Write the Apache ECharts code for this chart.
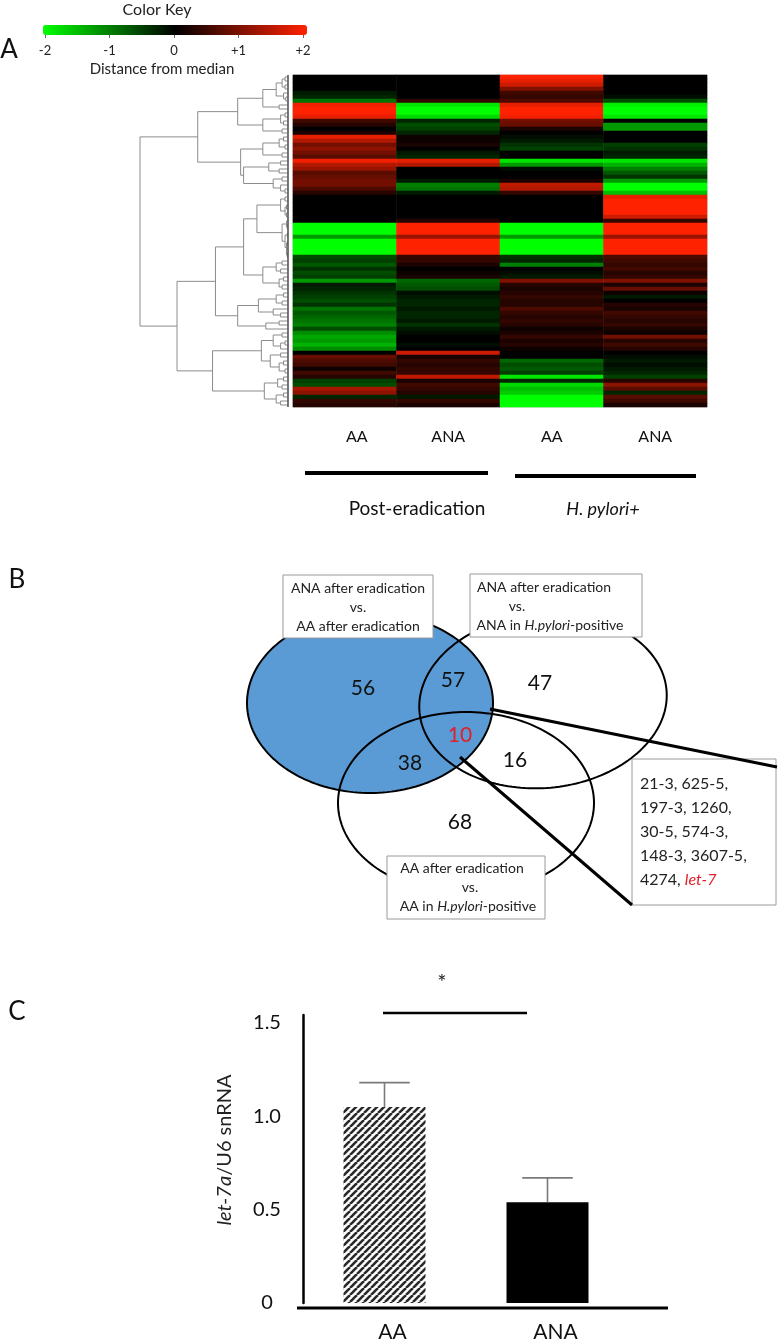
<!DOCTYPE html>
<html>
<head>
<meta charset="utf-8">
<script src="https://cdn.jsdelivr.net/npm/echarts@6/dist/echarts.min.js"></script>
<style>
html,body{margin:0;padding:0;background:#ffffff;}
#chart{width:778px;height:1343px;}
</style>
</head>
<body>
<div id="chart"></div>
<script>
// ================= Panel A : heatmap data =================
const heatColumnLabels = ['AA', 'ANA', 'AA', 'ANA'];
const heatGroupLabels = ['Post-eradication', 'H. pylori+'];
const colorKeyTicks = [-2, -1, 0, 1, 2];

// distance from median, row by row (top to bottom)
const colAApost = [0,0,0,0,-0.2,-0.3,-0.9,
  1.9,2,2,1.8,
  0.5,0.3,0,0.2,
  1.8,1.4,
  0.9,1.1,0.9,
  0.7,1.9,1.4,1.2,0.7,0.8,0.9,0.9,0.6,0.3,
  0,0,0,0,0,0,0,
  -2,-2,-2,-1.2,-2,-2,-2,-2,
  -0.6,-0.5,-0.7,-0.4,-0.6,-0.5,
  -1.2,
  -0.2,-0.3,-0.4,
  -0.5,-0.6,-0.4,-0.9,-0.7,-0.8,-0.9,
  -1.0,-0.6,-1.1,-1.3,-1.2,-1.4,-1.1,
  0,0.8,0.6,0.5,0.1,0.5,
  0.3,-0.5,-0.6,
  1.3,1.1,
  -0.3,0.4,0.3];
const colANApost = [0,0,0,0,0,0,0.4,
  -1.8,-2,-2,-1.7,
  -0.3,-0.6,-0.5,-0.3,
  0.1,0.1,
  0.2,0,-0.2,
  -0.3,1.8,1.4,0,0,0,-0.2,-1.0,-0.9,-0.2,
  0,0,0,0,0,0,0.3,
  2,2,2,1.2,2,2,2,2,
  0.4,0.4,0.2,0,0.1,0.2,
  -0.8,
  -0.7,-0.6,-0.1,
  -0.2,-0.3,-0.3,-0.2,-0.3,-0.3,-0.2,
  -0.4,-0.2,-0.1,0,0,-0.1,0,
  1.6,0.2,0.4,0.3,0.4,0.4,
  1.5,0.2,0.5,
  0.4,0.3,
  -0.2,0.4,0.2];
const colAAhp = [2,1.8,1.6,1.0,0.5,0.4,0.6,
  1.8,2,2,1.9,
  0.9,0.8,0.2,0,
  -0.1,-0.2,
  -0.4,-0.5,0,
  0,-1.8,-1.2,-0.1,0,0,0.2,1.5,1.4,0.4,
  0,0,0,0,0,0,0,
  -2,-2,-2,-1.2,-2,-2,-2,-2,
  -0.4,-0.3,-1.0,0,-0.1,-0.2,
  1.0,
  0.3,0.2,0.3,
  0.4,0.3,0.3,0.6,0.4,0.3,0.4,
  0.3,0.1,0.2,0.4,0.2,0.3,0.1,
  0,0,-0.8,-0.6,-0.7,-0.5,
  -1.8,-0.3,-1.7,
  -1.5,-1.6,
  -2,-2,-2];
const colANAhp = [0,0,0,0,0,-0.1,-0.6,
  -1.9,-2,-2,-1.8,
  0,-1.2,-1.2,0,
  0,0,
  -0.5,-0.4,-0.2,
  -0.3,-1.8,-1.4,-1.0,-0.7,-0.4,-1.2,-2,-2,-1.5,
  1.8,2,2,2,2,1.6,0.4,
  2,2,2,1.2,2,2,2,2,
  0.6,0.5,0.4,0.5,0.3,0.4,
  1.0,
  0.2,0.8,0.1,
  -0.2,0,0.3,0.2,0.5,0.4,0.3,
  0.4,0.2,0.1,0.9,0.3,0.5,0.3,
  0,-0.1,-0.2,-0.1,-0.2,-0.3,
  -0.5,0.3,1.1,
  0.7,-0.3,
  0.7,0.5,0.2];

// row dendrogram: [mergeHeight, left, right], leaves = row index
const dendroA1 = [0.34,
  [0.17, [0.08, [0.04, [0.02,0,1], [0.02,2,3]], [0.03, 4, [0.015,5,6]]], [0.06,7,8]],
  [0.17, [0.05, [0.02,9,10], [0.03,11,12]], [0.04,13,14]]];
const dendroA2 = [0.32,
  [0.17, [0.06,[0.03,15,16],[0.02,17,18]], [0.04,19,20]],
  [0.30, [0.13,[0.05,21,22],[0.06,23,24]], [0.10,[0.04,25,26],[0.05,27,[0.02,28,29]]]]];
const dendroB1 = [0.49,
  [0.30,
    [0.21, [0.05,[0.02,30,31],[0.02,[0.01,32,33],[0.01,34,35]]],
           [0.04,[0.01,36,[0.005,37,38]],[0.02,[0.005,39,40],[0.01,[0.005,41,42],[0.01,43,[0.005,44,45]]]]]],
    [0.17, [0.08,[0.04,46,47],[0.05,48,49]], [0.06,[0.03,50,51],[0.04,52,53]]]],
  [0.34, [0.20,[0.08,[0.03,54,55],[0.04,56,57]],[0.10,58,[0.05,59,60]]], [0.15,[0.06,61,62],63]]];
const dendroB2 = [0.51,
  [0.18, [0.10,[0.04,64,65],[0.05,[0.02,66,67],68]], [0.12,[0.05,69,70],[0.06,[0.03,71,72],[0.02,73,74]]]],
  [0.16, [0.07,[0.03,75,76],[0.04,77,78]], [0.08,[0.03,79,80],[0.05,81,82]]]];
const dendroTree = [1.0, [0.61, dendroA1, dendroA2], [0.75, dendroB1, dendroB2]];

// ================= Panel B : Venn data =================
const vennSetNames = [
  ['ANA after eradication', 'vs.', 'AA after eradication'],
  ['ANA after eradication', 'vs.', 'ANA in |H.pylori|-positive'],
  ['AA after eradication', 'vs.', 'AA in |H.pylori|-positive']
];
const vennRegionNames = ['1 only', '1&2', '2 only', '1&2&3', '1&3', '2&3', '3 only'];
const vennCounts = [56, 57, 47, 10, 38, 16, 68];
const commonMiRNAs = ['21-3', '625-5', '197-3', '1260', '30-5', '574-3', '148-3', '3607-5', '4274', 'let-7'];

// ================= Panel C : bar data =================
const barCategories = ['AA', 'ANA'];
const barValues = [1.05, 0.54];
const barErrors = [0.13, 0.13];
const barTicks = [0, 0.5, 1.0, 1.5];

// ================= layout (positions / styles) =================
const FONT = 'Lato, "Open Sans", "DejaVu Sans", sans-serif';
const vennEllipses = [ // cx, cy, rx, ry, rotation, filled
  [370, 703, 123, 90, 0, 1],
  [543, 701, 124, 87, -0.09, 0],
  [466, 803, 128, 91, 0, 0]
];
const vennCountPos = [[363,688],[453,680],[540,683],[460,735],[410,763],[515,760],[460,822]];

const rowNames = colAApost.map((_, i) => 'r' + i);
const heatCols = [colAApost, colANApost, colAAhp, colANAhp];
const heatData = [];
heatCols.forEach((col, x) => col.forEach((v, y) => heatData.push([x, y, v])));

// dendrogram segments from the tree
const dendroSegs = [];
function layoutTree(node) {
  if (typeof node === 'number') return { y: node, h: 0, lo: node, hi: node };
  const a = layoutTree(node[1]), b = layoutTree(node[2]);
  const h = node[0];
  dendroSegs.push([a.h, a.y, h, a.y]);
  dendroSegs.push([b.h, b.y, h, b.y]);
  dendroSegs.push([h, a.y, h, b.y]);
  return { y: (a.y + b.y) / 2, h: h, lo: Math.min(a.lo, b.lo), hi: Math.max(a.hi, b.hi) };
}
const rootInfo = layoutTree(dendroTree);
dendroSegs.push([0, rootInfo.lo - 0.5, 0, rootInfo.hi + 0.5]);

// hatch pattern for AA bar
function hatch() {
  const s = 7, c = document.createElement('canvas');
  c.width = s; c.height = s;
  const g = c.getContext('2d');
  g.fillStyle = '#ffffff'; g.fillRect(0, 0, s, s);
  g.strokeStyle = '#2a2a2a'; g.lineWidth = 2.6;
  [-s, 0, s].forEach(k => { g.beginPath(); g.moveTo(k, s); g.lineTo(k + s, 0); g.stroke(); });
  return c;
}

function richLine(str, size, fill) {
  const parts = str.split('|');
  let t = '';
  parts.forEach((p, i) => { if (p) t += (i % 2 ? '{i|' : '{n|') + p + '}'; });
  return {
    text: t, align: 'center', verticalAlign: 'middle',
    rich: {
      n: { fontSize: size, fontFamily: FONT, fill: fill || '#222' },
      i: { fontSize: size, fontFamily: FONT, fontStyle: 'italic', fill: fill || '#222' }
    }
  };
}
function boxGroup(x, y, w, h, lines, lineX, lineY) {
  const els = [{ type: 'rect', shape: { x: x, y: y, width: w, height: h }, style: { fill: '#fff', stroke: '#9a9a9a', lineWidth: 1 }, z: 20 }];
  lines.forEach((ln, i) => els.push({ type: 'text', x: lineX[i], y: lineY[i], style: richLine(ln, 14), z: 21 }));
  return els;
}

const chart = echarts.init(document.getElementById('chart'), null, { renderer: 'canvas' });

const graphics = [].concat(
  [
    { type: 'text', x: 9, y: 50, style: { text: 'A', fontSize: 26, fontFamily: FONT, fill: '#111', align: 'center', verticalAlign: 'middle' } },
    { type: 'text', x: 157, y: 10, style: { text: 'Color Key', fontSize: 16, fontFamily: FONT, fill: '#222', align: 'center', verticalAlign: 'middle' } },
    { type: 'text', x: 162, y: 69, style: { text: 'Distance from median', fontSize: 15, fontFamily: FONT, fill: '#222', align: 'center', verticalAlign: 'middle' } },
    { type: 'line', shape: { x1: 305, y1: 473, x2: 488, y2: 473 }, style: { stroke: '#000', lineWidth: 4 } },
    { type: 'line', shape: { x1: 515, y1: 476, x2: 696, y2: 476 }, style: { stroke: '#000', lineWidth: 4 } },
    { type: 'text', x: 417, y: 509, style: { text: heatGroupLabels[0], fontSize: 19, fontFamily: FONT, fill: '#111', align: 'center', verticalAlign: 'middle' } },
    { type: 'text', x: 603, y: 509, style: { text: heatGroupLabels[1], fontSize: 18, fontFamily: FONT, fontStyle: 'italic', fill: '#111', align: 'center', verticalAlign: 'middle' } },
    { type: 'text', x: 17, y: 580, style: { text: 'B', fontSize: 26, fontFamily: FONT, fill: '#111', align: 'center', verticalAlign: 'middle' } },
    { type: 'text', x: 17, y: 1012, style: { text: 'C', fontSize: 26, fontFamily: FONT, fill: '#111', align: 'center', verticalAlign: 'middle' } }
  ],
  boxGroup(283, 575, 150, 63, vennSetNames[0], [358, 358, 358], [588, 607, 626]),
  boxGroup(470, 574, 172, 63, vennSetNames[1], [544, 517, 550], [587, 606, 625]),
  boxGroup(387, 856, 158, 63, vennSetNames[2], [462, 470, 468], [868, 887, 906]),
  [
    { type: 'rect', shape: { x: 632, y: 759, width: 144, height: 146 }, style: { fill: '#fff', stroke: '#9a9a9a', lineWidth: 1 }, z: 20 }
  ],
  [0, 1, 2, 3, 4].map(k => {
    const a = commonMiRNAs[2 * k], b = commonMiRNAs[2 * k + 1];
    const isLast = k === 4;
    return {
      type: 'text', x: 640, y: 784 + 24 * k, z: 21,
      style: {
        text: isLast ? '{n|' + a + ', }{r|' + b + '}' : '{n|' + a + ', ' + b + ',}',
        align: 'left', verticalAlign: 'middle',
        rich: {
          n: { fontSize: 16, fontFamily: FONT, fill: '#222' },
          r: { fontSize: 16, fontFamily: FONT, fontStyle: 'italic', fill: '#e0202a' }
        }
      }
    };
  }),
  [
    { type: 'line', shape: { x1: 490, y1: 709, x2: 777, y2: 767 }, style: { stroke: '#000', lineWidth: 3 }, z: 30 },
    { type: 'line', shape: { x1: 460, y1: 757, x2: 632, y2: 905 }, style: { stroke: '#000', lineWidth: 3 }, z: 30 },
    // panel C annotations
    { type: 'line', shape: { x1: 297, y1: 1308, x2: 668, y2: 1308 }, style: { stroke: '#000', lineWidth: 3 }, z: 30 },
    { type: 'line', shape: { x1: 383, y1: 1013, x2: 527, y2: 1013 }, style: { stroke: '#000', lineWidth: 2.5 } },
    { type: 'text', x: 442, y: 983, style: { text: '*', fontSize: 22, fontFamily: FONT, fill: '#222', align: 'center', verticalAlign: 'middle' } },
    { type: 'text', x: 225, y: 1150, rotation: Math.PI / 2,
      style: { text: '{i|let-7a}{n|/U6 snRNA}', align: 'center', verticalAlign: 'middle',
        rich: { n: { fontSize: 20, fontFamily: FONT, fill: '#222' }, i: { fontSize: 20, fontFamily: FONT, fontStyle: 'italic', fill: '#222' } } } }
  ]
);

const option = {
  animation: false,
  backgroundColor: '#ffffff',
  textStyle: { fontFamily: FONT },
  grid: [
    { left: 293, top: 75, width: 414, height: 332, show: true, borderColor: '#c4c4c4', borderWidth: 1, backgroundColor: 'transparent' },
    { left: 140, top: 75, width: 148, height: 332 },
    { left: 45, top: 25, width: 258, height: 10 },
    { left: 303, top: 1015, width: 326, height: 293 },
    { left: 0, top: 0, width: 778, height: 1343 }
  ],
  xAxis: [
    { gridIndex: 0, type: 'category', data: heatColumnLabels, axisLine: { show: false }, axisTick: { show: false },
      axisLabel: { fontSize: 16, color: '#111', margin: 22, fontFamily: FONT,
        formatter: (v, i) => i === 0 ? '{s|' + v + '}' : v, rich: { s: { fontSize: 16, fontFamily: FONT, color: '#111', padding: [0, 0, 0, 24] } } } },
    { gridIndex: 1, type: 'value', min: 0, max: 1, inverse: true, show: false },
    { gridIndex: 2, type: 'value', min: -2, max: 2, interval: 1, position: 'bottom',
      axisLine: { show: false }, splitLine: { show: false },
      axisTick: { show: true, length: 3, lineStyle: { color: '#666' } },
      axisLabel: { fontSize: 13, color: '#222', margin: 9, fontFamily: FONT, formatter: v => v > 0 ? '+' + v : String(v) } },
    { gridIndex: 3, type: 'category', data: barCategories, axisLine: { show: false }, axisTick: { show: false },
      axisLabel: { fontSize: 21, color: '#111', margin: 19, fontFamily: FONT, padding: [0, 0, 0, 16] } },
    { gridIndex: 4, type: 'value', min: 0, max: 778, show: false }
  ],
  yAxis: [
    { gridIndex: 0, type: 'category', data: rowNames, inverse: true, show: false },
    { gridIndex: 1, type: 'value', min: -0.5, max: 82.5, inverse: true, show: false },
    { gridIndex: 2, type: 'value', show: false },
    { gridIndex: 3, type: 'value', min: barTicks[0], max: 1.542, interval: 0.5,
      axisLine: { show: true, lineStyle: { color: '#000', width: 2.5 } }, axisTick: { show: false }, splitLine: { show: false },
      axisLabel: { fontSize: 20, color: '#111', margin: 36, align: 'center', fontFamily: FONT, showMaxLabel: false,
        formatter: v => (barTicks.indexOf(v) < 0 ? '' : (v === 0 ? '0' : v.toFixed(1))) } },
    { gridIndex: 4, type: 'value', min: 0, max: 1343, inverse: true, show: false }
  ],
  visualMap: {
    type: 'continuous', min: colorKeyTicks[0], max: colorKeyTicks[colorKeyTicks.length - 1],
    orient: 'horizontal', left: 43, top: 25, itemWidth: 10, itemHeight: 264, padding: 0,
    calculable: false, hoverLink: false, seriesIndex: 0,
    inRange: { color: ['#00ff00', '#000000', '#ff2200'] }
  },
  graphic: { elements: graphics },
  series: [
    { type: 'heatmap', xAxisIndex: 0, yAxisIndex: 0, data: heatData, itemStyle: { borderWidth: 0 }, emphasis: { disabled: true } },
    { type: 'custom', xAxisIndex: 1, yAxisIndex: 1, data: dendroSegs, clip: false, silent: true,
      encode: { x: [0, 2], y: [1, 3] },
      renderItem: (params, api) => {
        const p1 = api.coord([api.value(0), api.value(1)]);
        const p2 = api.coord([api.value(2), api.value(3)]);
        const isEdge = params.dataIndex === dendroSegs.length - 1;
        return { type: 'line', shape: { x1: p1[0], y1: p1[1], x2: p2[0], y2: p2[1] },
          style: { stroke: isEdge ? '#555' : '#8c8c8c', lineWidth: isEdge ? 1.6 : 1 } };
      } },
    { type: 'bar', xAxisIndex: 3, yAxisIndex: 3, barWidth: 82,
      data: barValues.map((v, i) => ({ value: v, itemStyle: { color: i === 0 ? { image: hatch(), repeat: 'repeat' } : '#000000' } })) },
    { type: 'custom', xAxisIndex: 3, yAxisIndex: 3, clip: false, silent: true, z: 5,
      data: barValues.map((v, i) => [i, v, barErrors[i]]),
      renderItem: (params, api) => {
        const base = api.coord([api.value(0), api.value(1)]);
        const top = api.coord([api.value(0), api.value(1) + api.value(2)]);
        const half = api.size([1, 0])[0] * 0.155;
        const st = { stroke: '#7a7a7a', lineWidth: 1.6 };
        return { type: 'group', children: [
          { type: 'line', shape: { x1: base[0], y1: base[1], x2: top[0], y2: top[1] }, style: st },
          { type: 'line', shape: { x1: top[0] - half, y1: top[1], x2: top[0] + half, y2: top[1] }, style: st }
        ] };
      } },
    { type: 'custom', xAxisIndex: 4, yAxisIndex: 4, clip: false, silent: true, z: 2,
      data: vennEllipses,
      renderItem: (params, api) => {
        const cx = api.value(0), cy = api.value(1), rx = api.value(2), ry = api.value(3), rot = api.value(4), filled = api.value(5);
        const pts = [];
        for (let k = 0; k < 180; k++) {
          const t = k / 180 * 2 * Math.PI;
          const x = cx + rx * Math.cos(t) * Math.cos(rot) - ry * Math.sin(t) * Math.sin(rot);
          const y = cy + rx * Math.cos(t) * Math.sin(rot) + ry * Math.sin(t) * Math.cos(rot);
          pts.push(api.coord([x, y]));
        }
        return { type: 'polygon', shape: { points: pts },
          style: { fill: filled ? '#5b9bd5' : 'rgba(0,0,0,0)', stroke: '#000', lineWidth: 2 } };
      } },
    { type: 'custom', xAxisIndex: 4, yAxisIndex: 4, clip: false, silent: true, z: 3,
      data: vennCountPos.map((p, i) => [p[0], p[1], vennCounts[i]]),
      renderItem: (params, api) => {
        const p = api.coord([api.value(0), api.value(1)]);
        return { type: 'text', x: p[0], y: p[1],
          style: { text: String(api.value(2)), fontSize: 21, fontFamily: FONT,
            fill: vennRegionNames[params.dataIndex] === '1&2&3' ? '#e0202a' : '#111', align: 'center', verticalAlign: 'middle' } };
      } }
  ]
};
chart.setOption(option);
</script>
</body>
</html>
